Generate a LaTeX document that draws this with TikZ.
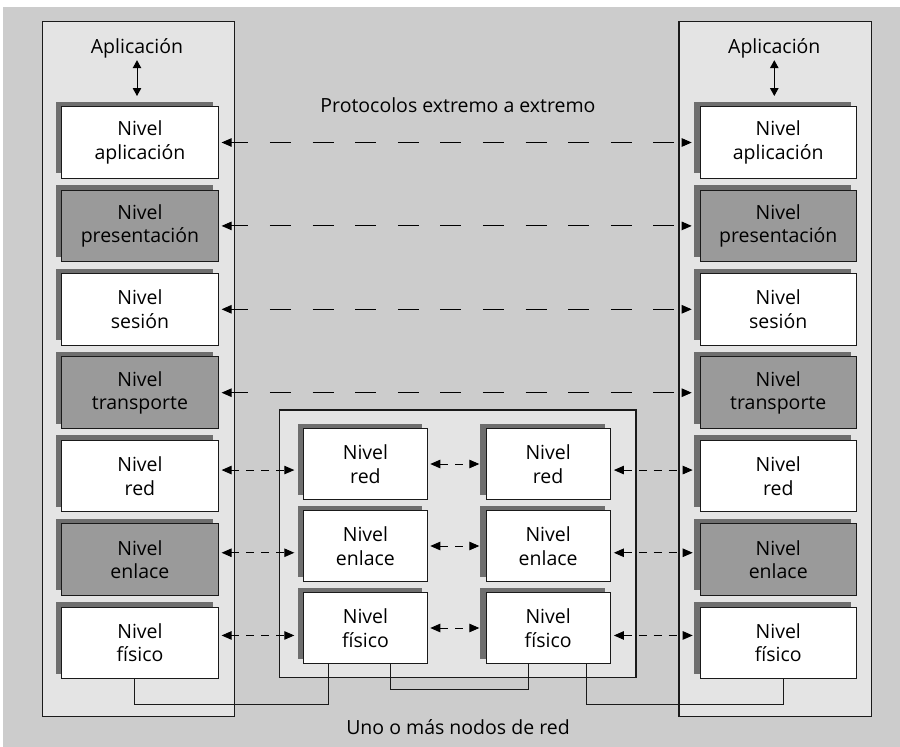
\documentclass[tikz,border=0pt]{standalone}
\usepackage{fontspec}
\setmainfont{Open Sans}
\usetikzlibrary{arrows.meta,shadows,calc}
\definecolor{bggray}{HTML}{CCCCCC}
\definecolor{panelgray}{HTML}{E4E4E4}
\definecolor{darkbox}{HTML}{9A9A9A}
\definecolor{shadegray}{HTML}{6E6E6E}
\definecolor{linegray}{HTML}{1A1A1A}
\tikzset{
  panel/.style={draw=linegray, line width=1.1pt, fill=panelgray},
  layer/.style={draw=linegray, line width=0.9pt, fill=white, anchor=north west,
    minimum width=156.5pt, minimum height=71.6pt, inner sep=0pt, outer sep=0pt,
    align=center, font=\fontsize{19.5}{23.5}\selectfont,
    general shadow={shadow xshift=-5.6pt, shadow yshift=5pt, fill=shadegray}},
  darklayer/.style={layer, fill=darkbox},
  midlayer/.style={layer, minimum width=124.3pt, minimum height=71pt},
  label/.style={font=\fontsize{19.5}{23.5}\selectfont, inner sep=0pt},
  longarrow/.style={line width=0.9pt, {Triangle[length=10pt,width=8.5pt]}-{Triangle[length=10pt,width=8.5pt]},
    dash pattern=on 21pt off 21.6pt, dash phase=4pt},
  shortarrow/.style={line width=0.9pt, {Triangle[length=10pt,width=8.5pt]}-{Triangle[length=10pt,width=8.5pt]},
    dash pattern=on 8pt off 7pt},
  dblarrow/.style={line width=1pt, {Triangle[length=8pt,width=8.5pt]}-{Triangle[length=8pt,width=8.5pt]}},
  wire/.style={line width=0.9pt, draw=linegray}
}
\begin{document}
\begin{tikzpicture}[x=1pt,y=-1pt]
\useasboundingbox (0,0) rectangle (900,747);
\fill[white] (0,0) rectangle (900,747);
\fill[bggray] (3,7) rectangle (900,747);

% end systems and the intermediate network nodes
\draw[panel] (42.3,21.7) rectangle (234.7,716.7);
\draw[panel] (679,21.7) rectangle (871.7,716.7);
\draw[panel] (279.3,410) rectangle (636,677.3);

% left protocol stack
\node[layer]     (L1) at (61.7,106.7) {Nivel\\aplicación};
\node[darklayer] (L2) at (61.7,190.1) {Nivel\\presentación};
\node[layer]     (L3) at (61.7,273.5) {Nivel\\sesión};
\node[darklayer] (L4) at (61.7,356.9) {Nivel\\transporte};
\node[layer]     (L5) at (61.7,440.3) {Nivel\\red};
\node[darklayer] (L6) at (61.7,523.7) {Nivel\\enlace};
\node[layer]     (L7) at (61.7,607.1) {Nivel\\físico};

% right protocol stack
\node[layer]     (R1) at (700,106.7) {Nivel\\aplicación};
\node[darklayer] (R2) at (700,190.1) {Nivel\\presentación};
\node[layer]     (R3) at (700,273.5) {Nivel\\sesión};
\node[darklayer] (R4) at (700,356.9) {Nivel\\transporte};
\node[layer]     (R5) at (700,440.3) {Nivel\\red};
\node[darklayer] (R6) at (700,523.7) {Nivel\\enlace};
\node[layer]     (R7) at (700,607.1) {Nivel\\físico};

% intermediate nodes (lower three layers)
\node[midlayer] (A1) at (303.3,428.5) {Nivel\\red};
\node[midlayer] (A2) at (303.3,510.5) {Nivel\\enlace};
\node[midlayer] (A3) at (303.3,592.5) {Nivel\\físico};
\node[midlayer] (B1) at (486,428.5) {Nivel\\red};
\node[midlayer] (B2) at (486,510.5) {Nivel\\enlace};
\node[midlayer] (B3) at (486,592.5) {Nivel\\físico};

% labels
\node[label, anchor=base] (appL) at (137,53.3) {Aplicación};
\node[label, anchor=base] (appR) at (774.3,53.3) {Aplicación};
\node[label] (e2e) at (458,105) {Protocolos extremo a extremo};
\node[label] (nodes) at (458,727) {Uno o más nodos de red};

% application access
\draw[dblarrow, shorten <=2pt, shorten >=10.7pt] (appL.south) -- (appL.south |- L1.north);
\draw[dblarrow, shorten <=2pt, shorten >=10.7pt] (appR.south) -- (appR.south |- R1.north);

% end-to-end protocols
\foreach \i in {1,2,3,4}{
  \draw[longarrow, shorten <=3.4pt, shorten >=8.3pt] (L\i.east) -- (R\i.west);
}

% hop-by-hop protocols
\foreach \i/\a/\b in {5/1/1,6/2/2,7/3/3}{
  \path (L\i.east) -- (A\a.west) coordinate[midway] (mL\a);
  \draw[shortarrow, shorten <=3.4pt, shorten >=9pt] (L\i.east |- mL\a) -- (A\a.west |- mL\a);
  \draw[shortarrow, shorten <=2.7pt, shorten >=6.7pt] (A\a.east) -- (B\b.west);
  \path (B\b.east) -- (R\i.west) coordinate[midway] (mR\a);
  \draw[shortarrow, shorten <=3.6pt, shorten >=7.3pt] (B\b.east |- mR\a) -- (R\i.west |- mR\a);
}

% physical links
\draw[wire] ([xshift=-5.7pt]L7.south) -- ++(0,26) -| ([xshift=-37pt]A3.south);
\draw[wire] ([xshift=25.4pt]A3.south) -- ++(0,26) -| ([xshift=-20pt]B3.south);
\draw[wire] ([xshift=38.3pt]B3.south) -- ++(0,41) -| ([xshift=5.5pt]R7.south);
\end{tikzpicture}
\end{document}
